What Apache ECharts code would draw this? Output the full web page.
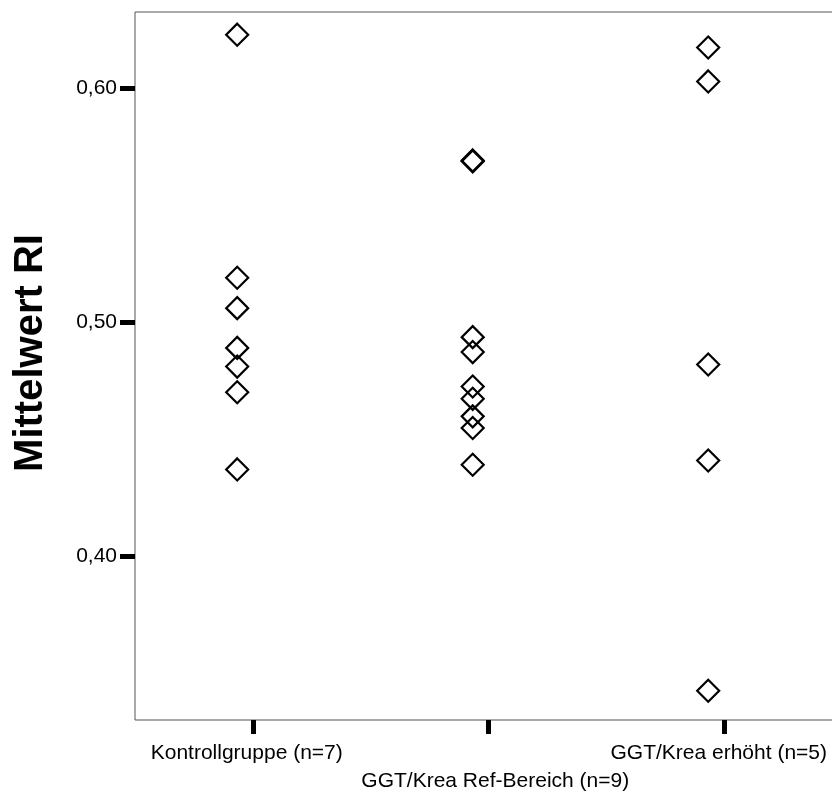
<!DOCTYPE html>
<html>
<head>
<meta charset="utf-8">
<script src="https://cdn.jsdelivr.net/npm/echarts@6/dist/echarts.min.js"></script>
<style>
html,body{margin:0;padding:0;background:#fff;}
#chart{width:832px;height:792px;}
</style>
</head>
<body>
<div id="chart"></div>
<script>
// Data
const categories = ['Kontrollgruppe (n=7)', 'GGT/Krea Ref-Bereich (n=9)', 'GGT/Krea erhöht (n=5)'];
const kontrollgruppe = [0.623, 0.519, 0.506, 0.489, 0.481, 0.470, 0.437];
const refBereich = [0.5688, 0.5692, 0.4936, 0.4872, 0.4725, 0.4672, 0.4597, 0.4547, 0.4390];
const erhoeht = [0.6175, 0.6030, 0.4819, 0.4408, 0.3423];
const yTickValues = [0.40, 0.50, 0.60];
const yAxisTitle = 'Mittelwert RI';

const groups = [kontrollgruppe, refBereich, erhoeht];
const points = [];
groups.forEach((vals, i) => vals.forEach(v => points.push([i, v])));

// small per-label nudges (layout only)
const labelPads = [[0, 12, 0, 0], [0, 0, 0, 14], [0, 10, 0, 0]];
const xData = categories.map((c, i) => ({value: c, textStyle: {padding: labelPads[i]}}));

const chart = echarts.init(document.getElementById('chart'), null, {renderer: 'canvas'});
const FONT = '"Liberation Sans", Arial, sans-serif';
chart.setOption({
  animation: false,
  backgroundColor: '#fff',
  grid: {left: 135, top: 12, width: 706.5, height: 708, show: true, borderColor: '#555', borderWidth: 1, backgroundColor: '#fff', containLabel: false, outerBoundsMode: 'none'},
  xAxis: [
    {
      type: 'category', data: xData, boundaryGap: true,
      axisLine: {show: false, onZero: false},
      axisTick: {show: true, alignWithLabel: true, interval: 0, length: 14, lineStyle: {width: 5, color: '#000'}},
      axisLabel: {
        interval: 0, margin: 19, fontSize: 21, lineHeight: 28, color: '#000', fontFamily: FONT,
        hideOverlap: false,
        formatter: (v, i) => i === 1 ? '\n' + v : v
      },
      splitLine: {show: false}
    },
    {type: 'value', min: -0.434, max: 2.566, show: false, position: 'bottom', axisLine: {onZero: false}}
  ],
  yAxis: {
    type: 'value', min: 0.3298, max: 0.6327,
    axisLine: {show: false, onZero: false}, splitLine: {show: false},
    axisTick: {show: true, length: 15, lineStyle: {width: 5, color: '#000'}, customValues: yTickValues},
    axisLabel: {customValues: yTickValues, formatter: v => v.toFixed(2).replace('.', ','), fontSize: 21, color: '#000', margin: 18, fontFamily: FONT},
    name: yAxisTitle, nameLocation: 'middle', nameGap: 104,
    nameTextStyle: {fontSize: 40, fontWeight: 'bold', color: '#000', fontFamily: FONT, verticalAlign: 'middle', padding: [0, 0, 0, 26]}
  },
  series: [{
    type: 'scatter', xAxisIndex: 1, yAxisIndex: 0,
    data: points, symbol: 'diamond', symbolSize: 22,
    itemStyle: {color: 'rgba(0,0,0,0)', borderColor: '#000', borderWidth: 2.2, opacity: 1},
    emphasis: {disabled: true}, silent: true
  }]
});
</script>
</body>
</html>
